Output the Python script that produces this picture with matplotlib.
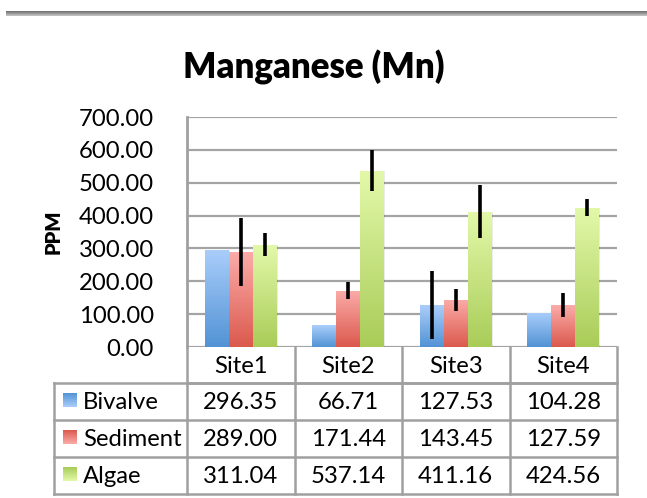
import numpy as np
import matplotlib
matplotlib.use("Agg")
import matplotlib.pyplot as plt
from matplotlib.colors import LinearSegmentedColormap

plt.rcParams['font.family'] = ['Lato', 'DejaVu Sans']

title = "Manganese (Mn)"
ylabel = "PPM"
sites = ["Site1", "Site2", "Site3", "Site4"]
series_names = ["Bivalve", "Sediment", "Algae"]
bivalve = [296.35, 66.71, 127.53, 104.28]
sediment = [289.00, 171.44, 143.45, 127.59]
algae = [311.04, 537.14, 411.16, 424.56]
err_bivalve = [0, 0, 104.5, 0]
err_sediment = [103, 25, 33.5, 37.6]
err_algae = [34.5, 63.5, 80.6, 26.5]
yticks = [0, 100, 200, 300, 400, 500, 600, 700]

values = [bivalve, sediment, algae]
errors = [err_bivalve, err_sediment, err_algae]
grad = [("#aacefb", "#5293d5"), ("#fbaca9", "#db594d"), ("#e3f9aa", "#a9cc58")]

W, H = 647, 498
fig = plt.figure(figsize=(W / 100, H / 100), dpi=100)
FS = 17.2

L, R, T, B = 187, 617, 117, 347
ax = fig.add_axes([L / W, 1 - B / H, (R - L) / W, (B - T) / H])
ax.set_xlim(-0.5, 3.5)
ax.set_ylim(0, 700)
ax.set_yticks(yticks)
ax.set_yticklabels([f"{v:.2f}" for v in yticks], fontsize=FS)
ax.tick_params(axis='y', length=0, pad=24)
ax.set_xticks([])
for s in ['top', 'right', 'bottom']:
    ax.spines[s].set_visible(False)
ax.spines['left'].set_color("#a0a0a0")
ax.spines['left'].set_linewidth(2)
for v in yticks:
    ax.axhline(v, color="#a4a4a4", lw=1.6, zorder=0.5)

x = np.arange(len(sites))
bw = 0.223
grad_img = np.linspace(1, 0, 256).reshape(-1, 1)
for i, (vals, errs, (ctop, cbot)) in enumerate(zip(values, errors, grad)):
    pos = x + (i - 1) * bw
    cmap = LinearSegmentedColormap.from_list(f"g{i}", [cbot, ctop])
    ax.bar(pos + 0.012, vals, bw, bottom=0, color="#000000", alpha=0.08, zorder=1.5)
    bars = ax.bar(pos, vals, bw, color="none", edgecolor="none", zorder=2)
    for b in bars:
        x0, y0 = b.get_x(), b.get_y()
        w, h = b.get_width(), b.get_height()
        im = ax.imshow(grad_img, cmap=cmap, aspect='auto',
                       extent=[x0, x0 + w, y0, y0 + h], zorder=2, vmin=0, vmax=1)
        im.set_clip_path(b)
    for p, v, e in zip(pos, vals, errs):
        if e > 0:
            ax.vlines(p, v - e, v + e, color="black", lw=2.6, zorder=4)

ov = fig.add_axes([0, 0, 1, 1], zorder=5)
ov.set_xlim(0, W)
ov.set_ylim(H, 0)
ov.axis('off')
ov.patch.set_alpha(0)

rule = np.linspace(0, 1, 32).reshape(-1, 1)
rcmap = LinearSegmentedColormap.from_list("rule", ["#6e6e6e", "#9a9a9a", "#c8c8c8"])
ov.imshow(rule, cmap=rcmap, aspect='auto', extent=[6, W, 16, 11], vmin=0, vmax=1)

ov.text(314, 67, title, ha='center', va='center', fontsize=25, fontweight='heavy')
ov.text(53, 232, ylabel, ha='center', va='center', rotation=90, fontsize=14.5, fontweight='heavy')

gc = "#a0a0a0"
colw = (R - L) / len(sites)
col_edges = [L + k * colw for k in range(len(sites) + 1)]
row_edges = [347, 383, 420, 457, 494]
tl = 54
for xe in col_edges:
    ov.plot([xe, xe], [row_edges[0], row_edges[-1]], color=gc, lw=1.8)
ov.plot([L, R], [row_edges[1], row_edges[1]], color=gc, lw=1.8)
for ye in row_edges[1:]:
    ov.plot([tl, R], [ye, ye], color=gc, lw=1.8)
ov.plot([tl, tl], [row_edges[1], row_edges[-1]], color=gc, lw=1.8)

for k, s in enumerate(sites):
    cx = (col_edges[k] + col_edges[k + 1]) / 2
    ov.text(cx, (row_edges[0] + row_edges[1]) / 2 + 1, s, ha='center', va='center', fontsize=FS)

for r, (name, vals, (ctop, cbot)) in enumerate(zip(series_names, values, grad)):
    cy = (row_edges[r + 1] + row_edges[r + 2]) / 2
    cmap = LinearSegmentedColormap.from_list(f"k{r}", [cbot, ctop])
    ov.imshow(np.linspace(0, 1, 64).reshape(-1, 1), cmap=cmap, aspect='auto',
              extent=[63, 77, cy + 6, cy - 8], zorder=3, vmin=0, vmax=1)
    ov.text(83, cy + 1, name, ha='left', va='center', fontsize=FS)
    for k, v in enumerate(vals):
        cx = (col_edges[k] + col_edges[k + 1]) / 2
        ov.text(cx, cy + 1, f"{v:.2f}", ha='center', va='center', fontsize=FS)
ov.set_xlim(0, W)
ov.set_ylim(H, 0)

fig.savefig("out.png", dpi=100)
